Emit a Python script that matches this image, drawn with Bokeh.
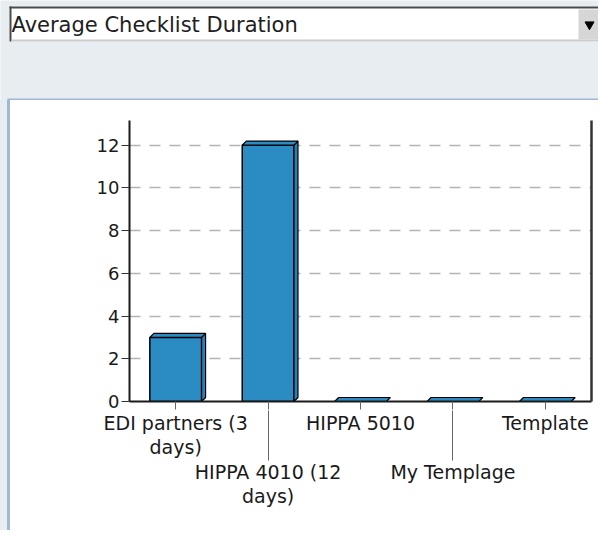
from bokeh.plotting import figure
from bokeh.layouts import column, row
from bokeh.models import Range1d, LinearAxis, FixedTicker, Div
from bokeh.core.properties import value
from bokeh.embed import file_html
from bokeh.resources import INLINE

# ---- data ----
categories = ["EDI partners (3 days)", "HIPPA 4010 (12 days)", "HIPPA 5010",
              "My Templage", "Template"]
durations = [3, 12, 0, 0, 0]
tick_labels = ["EDI partners (3\ndays)", "HIPPA 4010 (12\ndays)", "HIPPA 5010",
               "My Templage", "Template"]
y_ticks = [0, 2, 4, 6, 8, 10, 12]
y_max = 13.15
chart_title = "Average Checklist Duration"

# ---- layout / style ----
W, H = 598, 530
TOP_H = 100          # height of the dropdown strip
LEFT_W = 10          # gray margin + panel border at the left
CW, CH = W - LEFT_W, H - TOP_H
FL, FT, FR, FB = 119, 20, 581, 301   # chart frame inside the chart figure
FONT = "DejaVu Sans"
TXT = "#1a1a1a"
BG = "#E8EDF2"
PANEL_LINE = "#A2B7D3"
BAR = "#2B8CC4"
BAR_SIDE = "#2A80B6"

n = len(categories)
positions = list(range(1, n + 1))

# ---- top strip with the dropdown ----
top = figure(width=W, height=TOP_H, output_backend="svg", toolbar_location=None,
             x_range=Range1d(0, W), y_range=Range1d(TOP_H, 0),
             x_axis_location=None, y_axis_location=None,
             min_border=0, background_fill_color=BG, border_fill_color=BG,
             outline_line_color=None)
top.grid.visible = False
top.quad(left=9, right=W, top=6, bottom=41, fill_color="white", line_color=None)
top.quad(left=9, right=W, top=6, bottom=8, fill_color="#4a4a4a", line_color=None)
top.quad(left=9, right=11, top=6, bottom=41, fill_color="#4a4a4a", line_color=None)
top.quad(left=11, right=W, top=39, bottom=41, fill_color="#CBCBCB", line_color=None)
top.quad(left=578, right=W, top=9, bottom=39, fill_color="#D6D6D6",
         line_color=None)
top.scatter(x=[589], y=[24], marker="inverted_triangle", size=9,
            fill_color="black", line_color="black")
top.text(x=[11], y=[24], text=[chart_title], text_font=value(FONT),
         text_font_size="21px", text_color="#202020",
         text_baseline="middle", text_align="left")
top.quad(left=7, right=W, top=TOP_H - 2, bottom=TOP_H, fill_color=PANEL_LINE,
         line_color=None)

# ---- left strip with the panel border ----
left = Div(text="", width=LEFT_W, height=CH, margin=0,
           styles={"background": f"linear-gradient(to right, {BG} 0px, {BG} 7px, "
                                 f"{PANEL_LINE} 7px, {PANEL_LINE} 10px)"})

# ---- chart ----
p = figure(width=CW, height=CH, output_backend="svg", toolbar_location=None,
           x_range=Range1d(0.5, n + 0.5), y_range=Range1d(0, y_max),
           min_border_left=FL, min_border_top=FT, min_border_right=CW - FR,
           min_border_bottom=CH - FB,
           background_fill_color="white", border_fill_color="white",
           outline_line_color=None)

p.xgrid.visible = False
p.ygrid.ticker = FixedTicker(ticks=y_ticks)
p.ygrid.grid_line_color = "#b4b4b4"
p.ygrid.grid_line_width = 1.5
p.ygrid.grid_line_dash = "11 9"

# bars (front, side, top faces for a 3D look)
bar_w = 0.56
dx = 4 * n / (FR - FL)
dy = 4 * y_max / (FB - FT)

p.vbar(x=positions, top=durations, width=bar_w, bottom=0,
       fill_color=BAR, line_color="black", line_width=1.5)

side_xs, side_ys, top_xs, top_ys = [], [], [], []
for x, v in zip(positions, durations):
    xl, xr = x - bar_w / 2, x + bar_w / 2
    if v > 0:
        side_xs.append([xr, xr, xr + dx, xr + dx])
        side_ys.append([0, v, v + dy, dy])
    top_xs.append([xl, xl + dx, xr + dx, xr])
    top_ys.append([v, v + dy, v + dy, v])

p.patches(side_xs, side_ys, fill_color=BAR_SIDE, line_color="black",
          line_width=1.2)
p.patches(top_xs, top_ys, fill_color=BAR, line_color="black",
          line_width=1.2)

# y axis
ya = p.yaxis[0]
ya.ticker = FixedTicker(ticks=y_ticks)
ya.axis_line_color = "#1a1a1a"
ya.axis_line_width = 2
ya.major_tick_out = 8
ya.major_tick_in = 0
ya.minor_tick_out = 0
ya.minor_tick_in = 0
ya.major_tick_line_color = "#333333"
ya.major_label_standoff = 2
ya.major_label_text_font = FONT
ya.major_label_text_font_size = "18px"
ya.major_label_text_color = TXT

# right border line
ra = LinearAxis(ticker=FixedTicker(ticks=[]), axis_line_color="#333333",
                axis_line_width=2.5, major_tick_out=0, major_tick_in=0,
                minor_tick_out=0, minor_tick_in=0, major_label_standoff=0,
                major_label_text_font_size="0px")
p.add_layout(ra, "right")

# x axis row 1 (odd categories) with short ticks on every category
xa = p.xaxis[0]
xa.ticker = FixedTicker(ticks=positions)
xa.major_label_overrides = {pos: (lab if i % 2 == 0 else "")
                            for i, (pos, lab) in enumerate(zip(positions, tick_labels))}
xa.axis_line_color = "#1a1a1a"
xa.axis_line_width = 2
xa.major_tick_out = 8
xa.major_tick_in = 0
xa.minor_tick_out = 0
xa.minor_tick_in = 0
xa.major_tick_line_color = "#666666"
xa.major_label_standoff = 2
xa.major_label_text_font = FONT
xa.major_label_text_font_size = "19px"
xa.major_label_text_color = TXT
xa.major_label_text_line_height = 1.1

# x axis row 2 (even categories) with long ticks reaching the plot
xb = LinearAxis(ticker=FixedTicker(ticks=positions[1::2]))
xb.major_label_overrides = {pos: lab for pos, lab in
                            zip(positions[1::2], tick_labels[1::2])}
xb.axis_line_color = None
xb.major_tick_out = 0
xb.major_tick_in = 50
xb.minor_tick_out = 0
xb.minor_tick_in = 0
xb.major_tick_line_color = "#666666"
xb.major_label_standoff = 0
xb.major_label_text_font = FONT
xb.major_label_text_font_size = "19px"
xb.major_label_text_color = TXT
xb.major_label_text_line_height = 1.1
p.add_layout(xb, "below")

layout = column(top, row(left, p, spacing=0), spacing=0)

open("out.html", "w").write(file_html(layout, INLINE))
